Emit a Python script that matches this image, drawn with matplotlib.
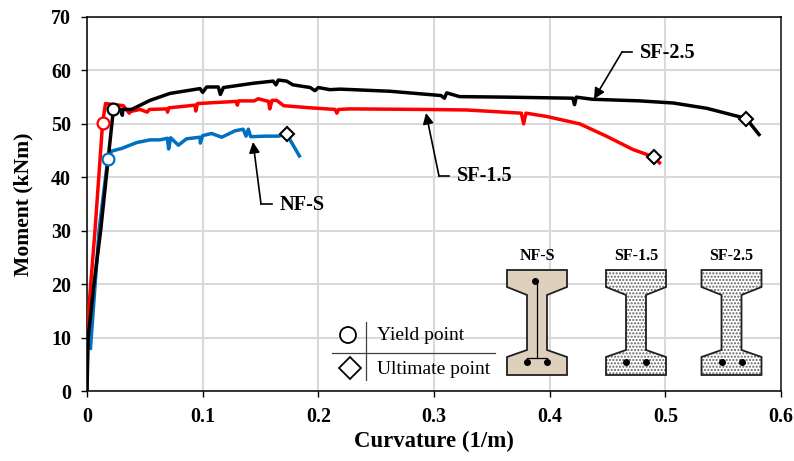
import matplotlib
matplotlib.use("Agg")
import matplotlib.pyplot as plt
from matplotlib.patches import Polygon, Circle

plt.rcParams['font.family'] = ['Liberation Serif', 'DejaVu Serif']

# Curves: curvature (1/m), moment (kNm)
sf25_x = [0, 0.001, 0.006, 0.0118, 0.0228, 0.03, 0.0305, 0.031, 0.0386, 0.0545, 0.0718, 0.0977, 0.1, 0.1035, 0.1135, 0.1153,
          0.118, 0.1438, 0.161, 0.1634, 0.1654, 0.1726, 0.178, 0.193, 0.197, 0.2, 0.21, 0.219, 0.262, 0.306,
          0.309, 0.311, 0.322, 0.3625, 0.42, 0.4215, 0.423, 0.437, 0.478, 0.507, 0.536, 0.57, 0.581]
sf25_y = [0, 10, 20, 30, 52.7, 52.7, 51.6, 52.7, 52.7, 54.4, 55.7, 56.6, 55.9, 56.9, 56.9, 55.5,
          56.8, 57.6, 58, 57.3, 58.2, 58, 57.3, 56.8, 56.2, 56.8, 56.4, 56.5, 56.1, 55.3,
          54.8, 55.8, 55.1, 55, 54.8, 53.6, 55, 54.6, 54.3, 53.9, 52.9, 51, 48]
sf15_x = [0, 0.0005, 0.0032, 0.0069, 0.0135, 0.016, 0.0314, 0.0366, 0.0375, 0.0458, 0.052, 0.054, 0.069, 0.0696, 0.0708, 0.0934, 0.094,
          0.0955, 0.112, 0.129, 0.13, 0.131, 0.1447, 0.148, 0.157, 0.158, 0.16, 0.164, 0.17, 0.193, 0.2145,
          0.216, 0.2175, 0.227, 0.291, 0.328, 0.3755, 0.3775, 0.3795, 0.397, 0.426, 0.449, 0.472, 0.49, 0.495]
sf15_y = [0, 12, 20, 30, 50.2, 53.8, 53.4, 52, 52.3, 52.7, 52.2, 52.7, 52.8, 52.2, 53, 53.5, 52.4,
          53.8, 54, 54.2, 53.5, 54.3, 54.3, 54.7, 54.2, 52.8, 54.4, 54.4, 53.4, 53, 52.7,
          52, 52.7, 52.8, 52.7, 52.6, 52, 50, 52, 51.4, 50, 47.7, 45.2, 43.8, 42.7]
nfs_x = [0.003, 0.0104, 0.018, 0.0213, 0.03, 0.043, 0.0545, 0.063, 0.0695, 0.0706, 0.0723, 0.079, 0.086, 0.0977, 0.098,
         0.1, 0.1077, 0.1165, 0.128, 0.135, 0.1375, 0.1395, 0.1415, 0.155, 0.1654, 0.1726, 0.1836]
nfs_y = [8, 30, 43.5, 44.9, 45.4, 46.5, 47, 47, 47.3, 45.3, 47.4, 46, 47.2, 47.5, 46.4,
         47.8, 48.2, 47.5, 48.7, 49, 47.7, 49, 47.6, 47.7, 47.7, 48.1, 44]

# Yield and ultimate points
yield_x = [0.018, 0.0135, 0.0228]
yield_y = [43.5, 50.2, 52.7]
ult_x = [0.1726, 0.49, 0.57]
ult_y = [48.1, 43.8, 51]

x_ticks = [0, 0.1, 0.2, 0.3, 0.4, 0.5, 0.6]
x_labels = ['0', '0.1', '0.2', '0.3', '0.4', '0.5', '0.6']
y_ticks = [0, 10, 20, 30, 40, 50, 60, 70]
section_names = ['NF-S', 'SF-1.5', 'SF-2.5']

BLUE = '#0070C0'
RED = '#FF0000'
GRID = '#D9D9D9'

fig = plt.figure(figsize=(7.94, 4.61), dpi=100)
ax = fig.add_axes([87 / 794, (461 - 391) / 461, (781 - 87) / 794, (391 - 17) / 461])

ax.plot(nfs_x, nfs_y, color=BLUE, lw=2.5, solid_joinstyle='round', zorder=3)
ax.plot(sf15_x, sf15_y, color=RED, lw=2.5, solid_joinstyle='round', zorder=3)
ax.plot(sf25_x, sf25_y, color='black', lw=2.5, solid_joinstyle='round', zorder=3)

# hollow markers, edge colour follows the curve
ax.plot(yield_x[0], yield_y[0], 'o', ms=8.5, mfc='white', mec=BLUE, mew=1.6, zorder=4)
ax.plot(yield_x[1], yield_y[1], 'o', ms=8.5, mfc='white', mec=RED, mew=1.6, zorder=4)
ax.plot(yield_x[2], yield_y[2], 'o', ms=8.5, mfc='white', mec='black', mew=1.6, zorder=5)
ax.plot(ult_x, ult_y, 'D', ms=7, mfc='white', mec='black', mew=1.5, zorder=5)

ax.set_xlim(0, 0.6)
ax.set_ylim(0, 70)
ax.set_xticks(x_ticks)
ax.set_xticklabels(x_labels)
ax.set_yticks(y_ticks)
ax.grid(color=GRID, lw=1.5)
ax.set_axisbelow(True)
ax.tick_params(length=4.5, width=1, labelsize=14.4, pad=7)
for lab in ax.get_xticklabels() + ax.get_yticklabels():
    lab.set_fontweight('bold')
for side in ax.spines:
    ax.spines[side].set_linewidth(1.1)
ax.spines['right'].set_linewidth(1.4)
ax.spines['right'].set_color('#404040')
ax.set_xlabel('Curvature (1/m)', fontsize=16.4, fontweight='bold', va='center')
ax.xaxis.set_label_coords(0.5, (391 - 441) / 374)
ax.set_ylabel('Moment (kNm)', fontsize=15.6, fontweight='bold', va='center')
ax.yaxis.set_label_coords((23 - 87) / 694, 0.5)

# Overlay in pixel coordinates for the sketch parts (callouts, key, sections)
ov = fig.add_axes([0, 0, 1, 1], facecolor='none')
ov.set_xlim(0, 794)
ov.set_ylim(461, 0)
ov.axis('off')


def callout(label, tx, ty, elbow, tip):
    ov.text(tx, ty, label, fontsize=14.6, fontweight='bold', va='center', ha='left')
    ov.plot([tx - 8, elbow[0]], [elbow[1], elbow[1]], color='black', lw=1.2)
    ov.annotate('', xy=tip, xytext=elbow,
                arrowprops=dict(arrowstyle='-|>', color='black', lw=1.2, mutation_scale=16, shrinkA=0, shrinkB=0))


callout('NF-S', 280, 205, (261, 204), (253, 142))
callout('SF-1.5', 457, 176, (439, 176), (426, 113))
callout('SF-2.5', 640, 53, (622, 52), (594, 99))

# Key
ov.add_patch(Circle((348, 335), 8, fc='white', ec='black', lw=1.3))
ov.add_patch(Polygon([(350, 357), (361, 368), (350, 379), (339, 368)], fc='white', ec='black', lw=1.3))
ov.plot([366, 366], [322, 380], color='#404040', lw=0.9)
ov.plot([332, 495], [353, 353], color='#404040', lw=0.9)
ov.text(377, 335, 'Yield point', fontsize=14, va='center', ha='left')
ov.text(377, 369, 'Ultimate point', fontsize=14, va='center', ha='left')


def i_section(x0, name, tan):
    # outline from the sketch, x0 = left edge of the bottom flange
    pts = [(0, 270), (60, 270), (60, 287), (40, 295), (40, 350), (60, 357), (60, 375),
           (0, 375), (0, 357), (20, 350), (20, 295), (0, 287)]
    pts = [(x0 + a, b) for a, b in pts]
    if tan:
        ov.add_patch(Polygon(pts, fc='#DDD0BD', ec='none'))
    else:
        ov.add_patch(Polygon(pts, fc='white', ec='#606060', hatch='.....', lw=0))
    ov.add_patch(Polygon(pts, fc='none', ec='#202020', lw=1.3))
    ov.text(x0 + 30, 256, name, fontsize=11.5, fontweight='bold', ha='center', va='center')
    ov.plot([x0 + 20, x0 + 40], [362, 362], 'o', color='black', ms=4)


i_section(507, section_names[0], True)
i_section(606, section_names[1], False)
i_section(701.5, section_names[2], False)
# longitudinal bars in the NF-S section
ov.plot([537, 537], [281, 358], color='black', lw=0.9)
ov.plot([527, 547], [358, 358], color='black', lw=0.9)
ov.plot([535], [281], 'o', color='black', ms=4)

fig.savefig('out.png', dpi=100)
